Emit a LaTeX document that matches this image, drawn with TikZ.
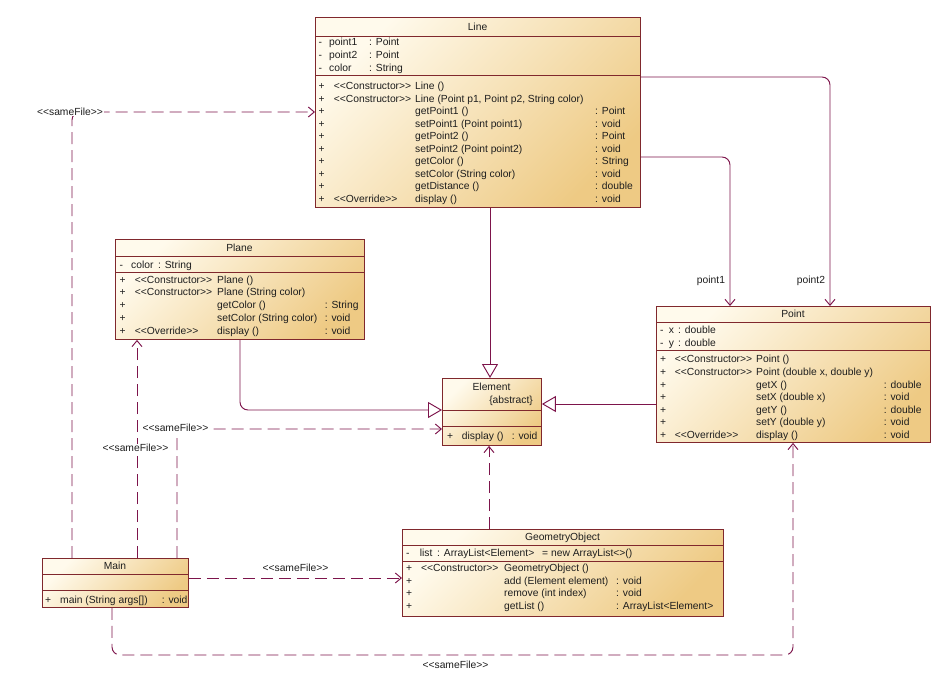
\documentclass[tikz,border=0pt]{standalone}
\usepackage{fontspec}
\setmainfont{Liberation Sans}
\usetikzlibrary{arrows.meta}
\definecolor{bord}{RGB}{128,40,45}
\definecolor{conn}{RGB}{125,20,75}
\definecolor{txtc}{RGB}{30,30,30}
\definecolor{fillA}{RGB}{255,250,236}
\definecolor{fillB}{RGB}{238,202,132}
\newcommand\stereo[1]{<\kern0pt<#1>\kern0pt>}
\newcommand\attr[5]{%
  \node[txt] (#1v) at (\xv,#2+3.6) {#3};
  \node[txt] (#1n) at (\xn,#2+3.6) {#4};
  \node[txt] (#1t) at (\xt,#2+3.6) {#5};}
\newcommand\oper[6]{%
  \node[txt] (#1v) at (\xv,#2+3.6) {#3};
  \node[txt] (#1s) at (\xs,#2+3.6) {#4};
  \node[txt] (#1m) at (\xm,#2+3.6) {#5};
  \node[txt] (#1r) at (\xr,#2+3.6) {#6};}
\begin{document}
\begin{tikzpicture}[x=1pt,y=-1pt,
  classbox/.style={draw=bord, line width=0.9pt, top color=fillA, bottom color=fillB, shading angle=45, inner sep=0pt, anchor=north west},
  txt/.style={anchor=base west, inner sep=0pt, font=\fontsize{10.3}{12}\selectfont, text=txtc},
  ttl/.style={anchor=base, inner sep=0pt, font=\fontsize{10.3}{12}\selectfont, text=txtc},
  sepl/.style={draw=bord, line width=0.6pt},
  assoc/.style={draw=conn, line width=0.95pt, -{Straight Barb[length=6pt,width=10pt]}},
  dep/.style={assoc, dash pattern=on 12pt off 6pt},
  gen/.style={draw=conn, line width=0.95pt, -{Triangle[length=14pt,width=16pt,fill=white]}},
  lbl/.style={font=\fontsize{10.3}{12}\selectfont, text=txtc, inner sep=1pt},
  lblw/.style={lbl, fill=white},
]
\useasboundingbox (0,0) rectangle (941,680);
\fill[white] (0,0) rectangle (941,680);

% ---------- class boxes ----------
\node[classbox, minimum width=325pt, minimum height=190pt] (Line) at (315,17) {};
\node[classbox, minimum width=249pt, minimum height=100pt] (Plane) at (115,239) {};
\node[classbox, minimum width=274pt, minimum height=136pt] (Point) at (656,306) {};
\node[classbox, minimum width=99pt, minimum height=67pt] (Element) at (442,378) {};
\node[classbox, minimum width=321pt, minimum height=87pt] (GeometryObject) at (402,529) {};
\node[classbox, minimum width=146pt, minimum height=49pt] (Main) at (42,558) {};

% separators
\draw[sepl] (Line.west |- 0,36) -- (Line.east |- 0,36);
\draw[sepl] (Line.west |- 0,75) -- (Line.east |- 0,75);
\draw[sepl] (Plane.west |- 0,256.5) -- (Plane.east |- 0,256.5);
\draw[sepl] (Plane.west |- 0,272.5) -- (Plane.east |- 0,272.5);
\draw[sepl] (Point.west |- 0,322) -- (Point.east |- 0,322);
\draw[sepl] (Point.west |- 0,350) -- (Point.east |- 0,350);
\draw[sepl] (Element.west |- 0,410.7) -- (Element.east |- 0,410.7);
\draw[sepl] (Element.west |- 0,426.7) -- (Element.east |- 0,426.7);
\draw[sepl] (GeometryObject.west |- 0,545.5) -- (GeometryObject.east |- 0,545.5);
\draw[sepl] (GeometryObject.west |- 0,561.5) -- (GeometryObject.east |- 0,561.5);
\draw[sepl] (Main.west |- 0,574.5) -- (Main.east |- 0,574.5);
\draw[sepl] (Main.west |- 0,590) -- (Main.east |- 0,590);

% ---------- Line ----------
\node[ttl] (Lt) at (477.5,30.6) {Line};
\def\xv{318.5}\def\xn{329}\def\xt{369}\def\xs{333.7}\def\xm{415}\def\xr{595}
\attr{La1}{42}{-}{point1}{: Point}
\attr{La2}{55}{-}{point2}{: Point}
\attr{La3}{68}{-}{color}{: String}
\oper{Lo1}{86}{+}{\stereo{Constructor}}{Line ()}{}
\oper{Lo2}{98.5}{+}{\stereo{Constructor}}{Line (Point p1, Point p2, String color)}{}
\oper{Lo3}{111}{+}{}{getPoint1 ()}{: Point}
\oper{Lo4}{123.5}{+}{}{setPoint1 (Point point1)}{: void}
\oper{Lo5}{136}{+}{}{getPoint2 ()}{: Point}
\oper{Lo6}{148.5}{+}{}{setPoint2 (Point point2)}{: void}
\oper{Lo7}{161}{+}{}{getColor ()}{: String}
\oper{Lo8}{173.5}{+}{}{setColor (String color)}{: void}
\oper{Lo9}{186}{+}{}{getDistance ()}{: double}
\oper{Lo10}{198.5}{+}{\stereo{Override}}{display ()}{: void}

% ---------- Plane ----------
\node[ttl] (Pt) at (239.5,251.6) {Plane};
\def\xv{119.5}\def\xn{131}\def\xt{158}\def\xs{134.7}\def\xm{217}\def\xr{324.7}
\attr{Pa1}{264.5}{-}{color}{: String}
\oper{Po1}{279.5}{+}{\stereo{Constructor}}{Plane ()}{}
\oper{Po2}{292.3}{+}{\stereo{Constructor}}{Plane (String color)}{}
\oper{Po3}{305.1}{+}{}{getColor ()}{: String}
\oper{Po4}{317.9}{+}{}{setColor (String color)}{: void}
\oper{Po5}{330.7}{+}{\stereo{Override}}{display ()}{: void}

% ---------- Point ----------
\node[ttl] (Qt) at (793,317.6) {Point};
\def\xv{660}\def\xn{668.7}\def\xt{678}\def\xs{674.7}\def\xm{756}\def\xr{883.7}
\attr{Qa1}{330}{-}{x}{: double}
\attr{Qa2}{342.7}{-}{y}{: double}
\oper{Qo1}{359.3}{+}{\stereo{Constructor}}{Point ()}{}
\oper{Qo2}{371.9}{+}{\stereo{Constructor}}{Point (double x, double y)}{}
\oper{Qo3}{384.5}{+}{}{getX ()}{: double}
\oper{Qo4}{397.1}{+}{}{setX (double x)}{: void}
\oper{Qo5}{409.7}{+}{}{getY ()}{: double}
\oper{Qo6}{422.3}{+}{}{setY (double y)}{: void}
\oper{Qo7}{434.9}{+}{\stereo{Override}}{display ()}{: void}

% ---------- Element ----------
\node[ttl] (Et) at (491.5,390.6) {Element};
\node[txt, anchor=base east] (Eab) at (533,403.6) {\{abstract\}};
\def\xv{447}\def\xs{447}\def\xm{461.7}\def\xr{511.7}
\oper{Eo1}{435.5}{+}{}{display ()}{: void}

% ---------- GeometryObject ----------
\node[ttl] (Gt) at (562.5,540.6) {GeometryObject};
\def\xv{406}\def\xn{419.7}\def\xt{437}\def\xs{421}\def\xm{504}\def\xr{616}
\attr{Ga1}{553.3}{-}{list}{: ArrayList<Element>}
\node[txt] (Ga1i) at (542,556.9) {= new ArrayList<>()};
\oper{Go1}{568}{+}{\stereo{Constructor}}{GeometryObject ()}{}
\oper{Go2}{580.7}{+}{}{add (Element element)}{: void}
\oper{Go3}{593.3}{+}{}{remove (int index)}{: void}
\oper{Go4}{606}{+}{}{getList ()}{: ArrayList<Element>}

% ---------- Main ----------
\node[ttl] (Mt) at (115,569.6) {Main};
\def\xv{45}\def\xs{45}\def\xm{60}\def\xr{161.7}
\oper{Mo1}{599.5}{+}{}{main (String args[])}{: void}

% ---------- connectors ----------
\draw[assoc, rounded corners=8pt] (Line.east |- 0,77) -| (Point.north -| 830,0);
\draw[assoc, rounded corners=8pt] (Line.east |- 0,157) -| (Point.north -| 730,0);
\node[lbl] (lp1) at (711,281) {point1};
\node[lbl] (lp2) at (811,281) {point2};

\draw[gen] (Line.south -| 490,0) -- (Element.north -| 490,0);
\draw[gen, rounded corners=8pt] (Plane.south -| 240,0) |- (Element.west |- 0,410);
\draw[gen] (Point.west |- 0,404) -- (Element.east |- 0,404);
\draw[dep] (GeometryObject.north -| 489,0) -- (Element.south -| 489,0);

\draw[dep, rounded corners=8pt] (Main.north -| 72,0) |- (Line.west |- 0,112);
\node[lblw] (s1) at (70,111.7) {\stereo{sameFile}};

\draw[dep] (Main.north -| 137,0) -- (Plane.south -| 137,0);
\node[lblw] (s2) at (135.5,448.3) {\stereo{sameFile}};

\draw[dep, rounded corners=8pt] (Main.north -| 177,0) |- (Element.west |- 0,429);
\node[lblw] (s3) at (175.5,428.3) {\stereo{sameFile}};

\draw[dep] (Main.east |- 0,578) -- (GeometryObject.west |- 0,578);
\node[lbl] (s4) at (295.5,568.3) {\stereo{sameFile}};

\coordinate (mp) at (793,655);
\draw[dep, rounded corners=8pt] (Main.south -| 112,0) |- (mp) -- (Point.south -| 793,0);
\node[lbl] (s5) at (455.5,664.5) {\stereo{sameFile}};
\end{tikzpicture}
\end{document}
